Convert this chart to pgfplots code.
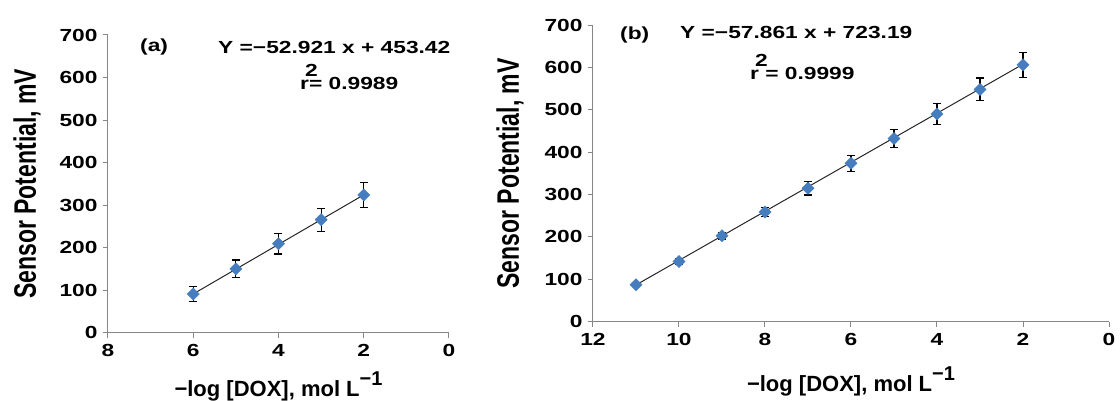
\documentclass[border=0pt]{standalone}
\usepackage{fontspec}
\setmainfont{Liberation Sans}
\newfontfamily\widef[FakeStretch=1.3]{Liberation Sans}
\usepackage{graphicx}
\usepackage{pgfplots}
\pgfplotsset{compat=1.18}
\usepackage{pgfplotstable}
\definecolor{mblue}{RGB}{70,125,190}
\definecolor{axgray}{RGB}{134,134,134}

\pgfplotstableread{
x y e
6 91 18
5 150 21
4 209 24
3 266 27
2 324 29
}\dataA
\pgfplotstableread{
x y
6 91.1
2 324.1
}\fitA
\pgfplotstableread{
x y e
11 87 4
10 142 6
9 203 8
8 259 10
7 315 16
6 374 19
5 432 22
4 490 25
3 548 27
2 606 30
}\dataB
\pgfplotstableread{
x y
11 86.7
2 607.5
}\fitB

\newcommand{\tickfont}{\widef\bfseries\fontsize{17.5}{20}\selectfont}
\newcommand{\xlab}{\bfseries\fontsize{22}{24}\selectfont −log [DOX], mol L\raisebox{11pt}{\fontsize{20}{20}\selectfont −1}}
\newcommand{\ylab}{\scalebox{1.35}[1]{\rotatebox{90}{\bfseries\fontsize{23}{24}\selectfont Sensor Potential, mV}}}

\pgfplotsset{
  myax/.style={
    scale only axis,
    x dir=reverse,
    axis x line*=bottom,
    axis y line*=left,
    axis line style={-, axgray, line width=1pt},
    tick style={axgray, line width=1pt},
    tick align=outside,
    major tick length=5pt,
    ymin=0, ymax=700,
    ytick={0,100,...,700},
    xmin=0,
    /pgf/number format/assume math mode=true,
    tick label style={font=\tickfont, black},
    yticklabel style={xshift=-2pt},
    xticklabel style={yshift=-3pt},
    xlabel style={at={(axis description cs:0.5,0)}, anchor=base},
    ylabel style={rotate=-90, at={(axis description cs:0,0.5)}, anchor=center},
    clip=false,
  },
  pts/.style={only marks, mark=square*, mark size=4.3pt,
    mark options={rotate=45, fill=mblue, draw=mblue},
    error bars/.cd, y dir=both, y explicit,
    error bar style={black, line width=1.1pt},
    error mark options={rotate=90, black, mark size=4pt, line width=1.1pt}},
  fitl/.style={black!85, line width=1pt, no marks},
}

\begin{document}
\begin{tikzpicture}
\useasboundingbox (0,0) rectangle (1120pt,401pt);
\begin{axis}[myax,
  at={(108pt,68.3pt)}, anchor=south west,
  width=341pt, height=297.7pt,
  xmax=8, xtick={0,2,4,6,8},
  xlabel={\xlab}, xlabel style={yshift=-64pt},
  ylabel={\ylab}, ylabel style={xshift=-81pt},
]
\addplot+[pts] table[x=x, y=y, y error=e] {\dataA};
\addplot[fitl] table[x=x, y=y] {\fitA};
\end{axis}
\begin{axis}[myax,
  at={(593pt,79.3pt)}, anchor=south west,
  width=516pt, height=296.7pt,
  xmax=12, xtick={0,2,4,6,8,10,12},
  xlabel={\xlab}, xlabel style={yshift=-70pt},
  ylabel={\ylab}, ylabel style={xshift=-83pt},
]
\addplot+[pts] table[x=x, y=y, y error=e] {\dataB};
\addplot[fitl] table[x=x, y=y] {\fitB};
\end{axis}
\node[anchor=west, inner sep=0pt, font=\tickfont] at (140pt,354pt) {(a)};
\node[anchor=west, inner sep=0pt, font=\tickfont] at (218pt,354pt) {Y =−52.921 x + 453.42};
\node[anchor=west, inner sep=0pt, font=\tickfont] at (300pt,324pt) {r\rlap{\raisebox{12.5pt}{\hspace{-4pt}2}}= 0.9989};
\node[anchor=west, inner sep=0pt, font=\tickfont] at (620pt,366pt) {(b)};
\node[anchor=west, inner sep=0pt, font=\tickfont] at (680pt,369pt) {Y =−57.861 x + 723.19};
\node[anchor=west, inner sep=0pt, font=\tickfont] at (750pt,334pt) {r\rlap{\raisebox{12.5pt}{\hspace{-4pt}2}} = 0.9999};
\end{tikzpicture}
\end{document}
